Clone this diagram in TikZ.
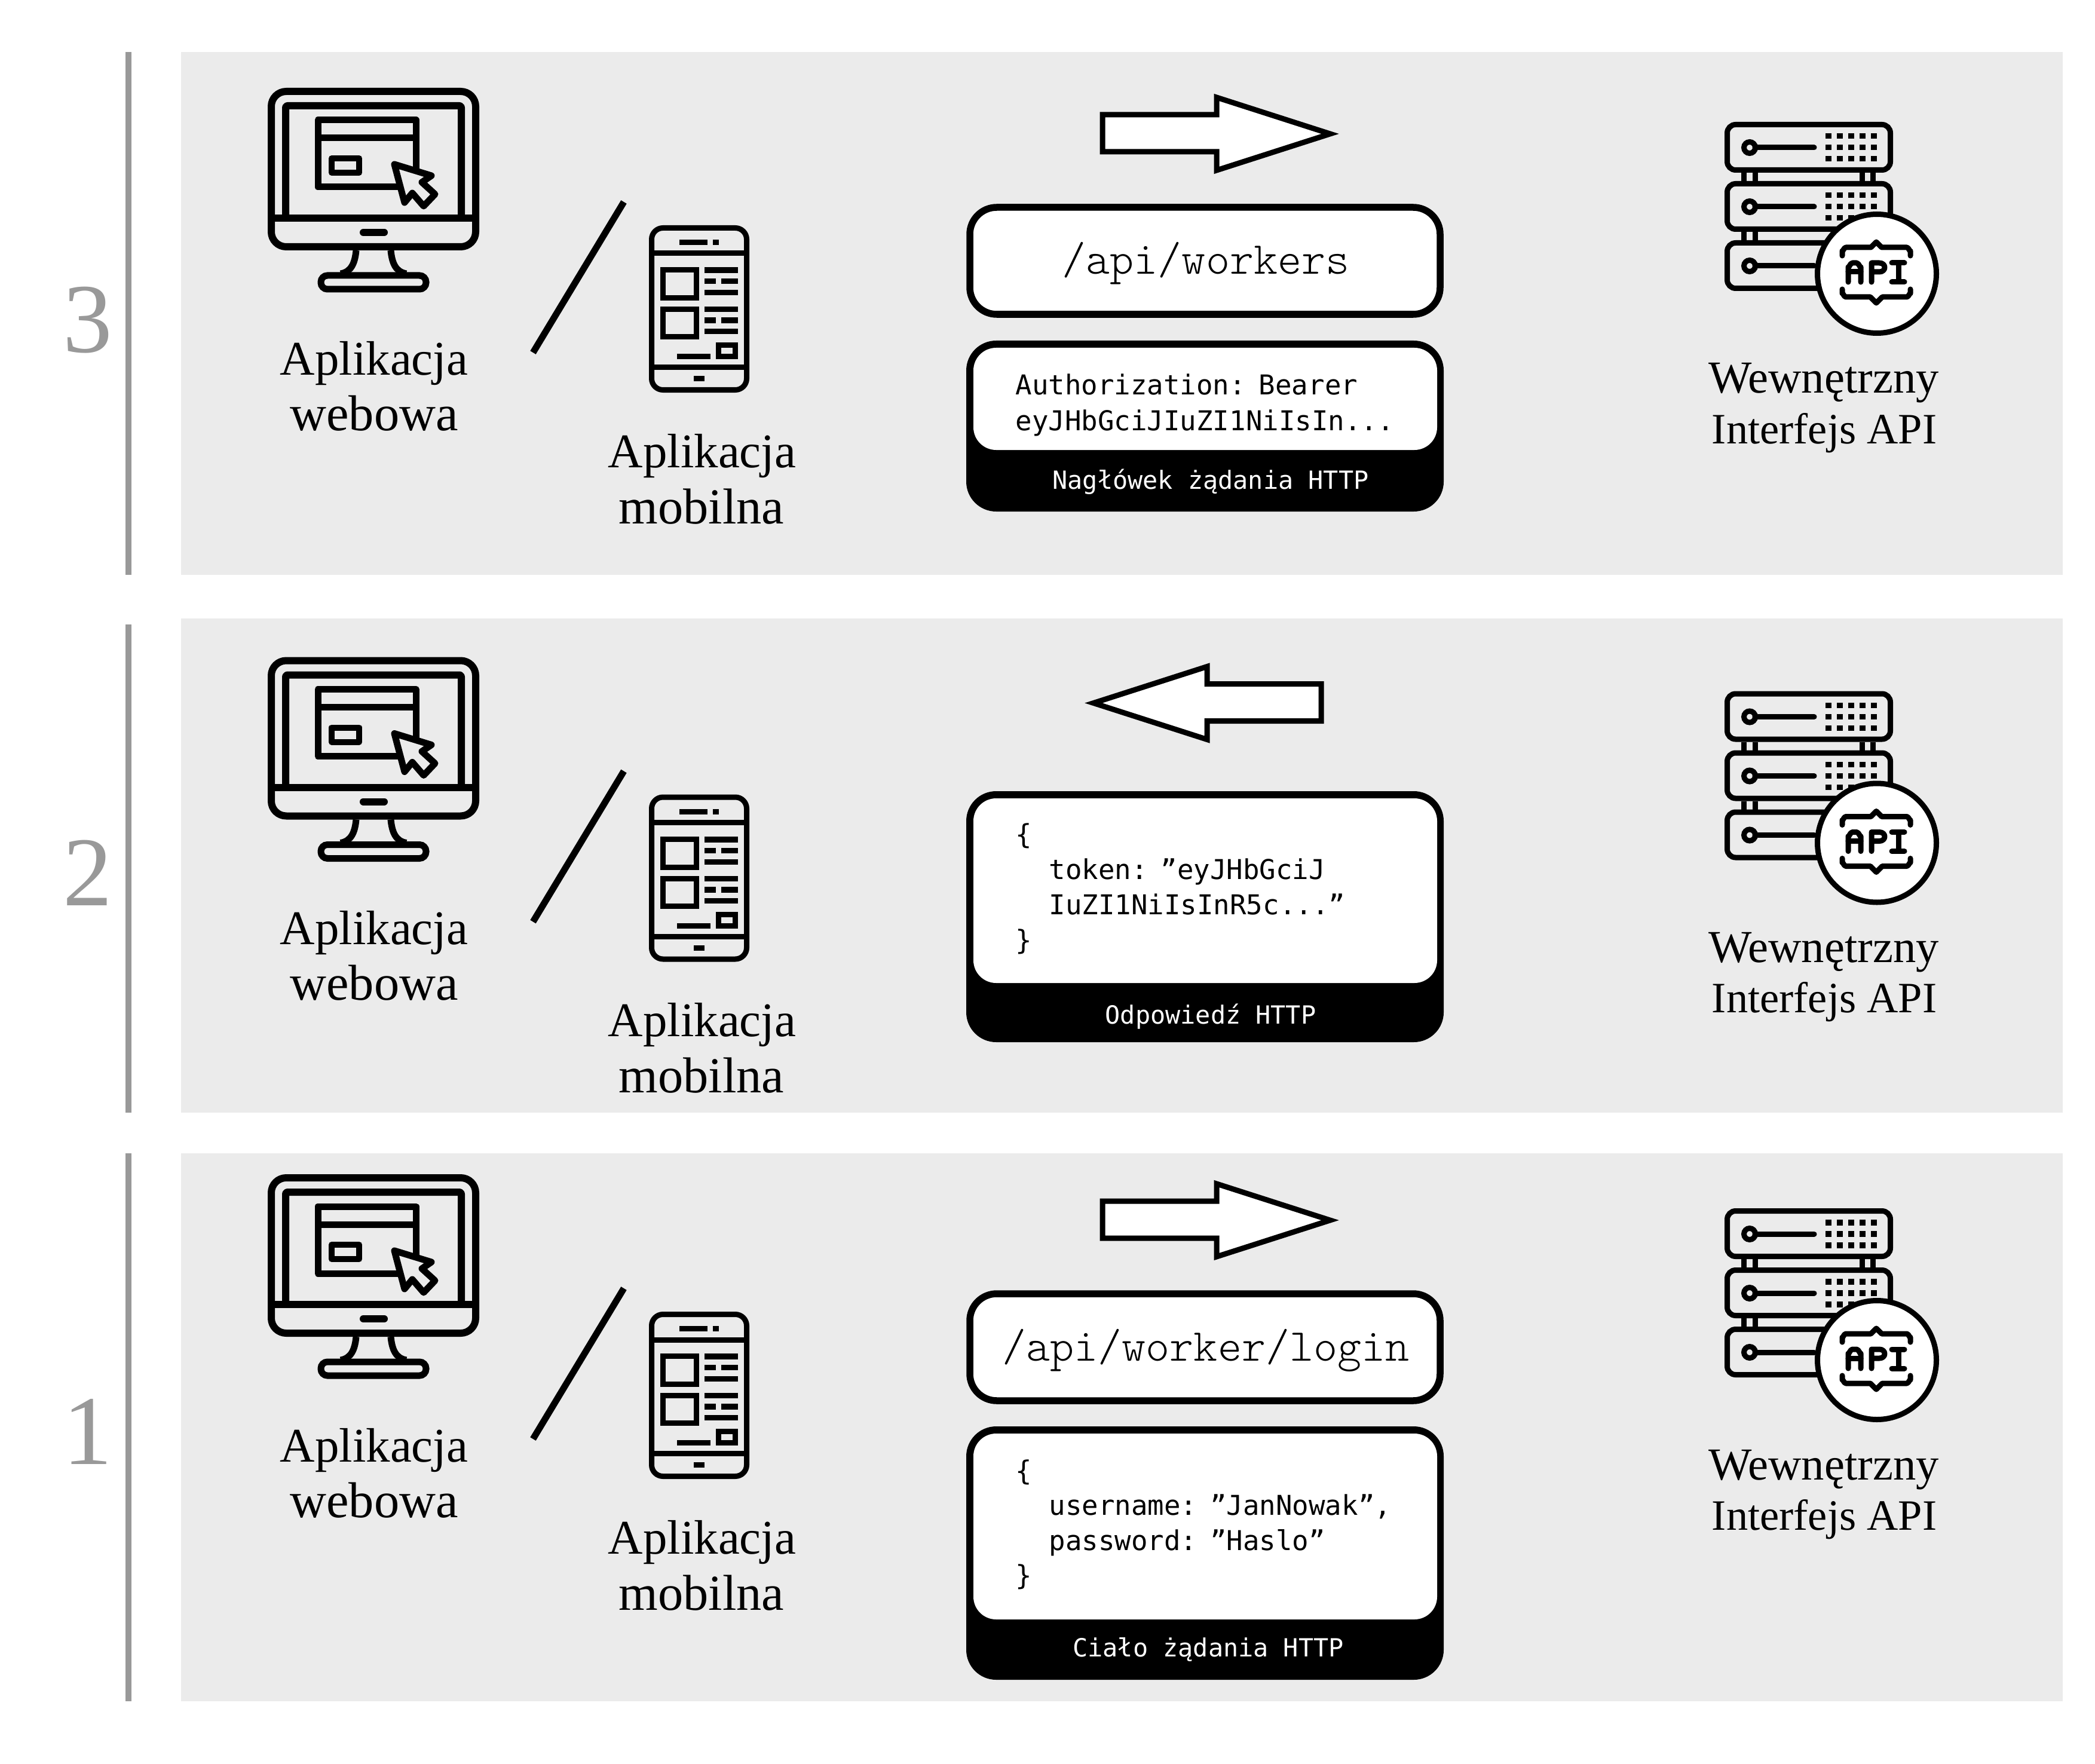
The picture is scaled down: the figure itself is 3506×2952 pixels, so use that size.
\documentclass[tikz,border=0pt]{standalone}
\usepackage{fontspec}
\setmainfont{Liberation Serif}
\newfontfamily\djc{DejaVu Sans Mono}
\newfontfamily\lml{Latin Modern Mono Light}
\usetikzlibrary{shapes.geometric}
\definecolor{panelgray}{HTML}{EBEBEB}
\definecolor{bargray}{HTML}{999999}
\newcommand{\fsz}[1]{\fontsize{#1}{#1}\selectfont}
\newcommand{\nsp}{\hspace{0.48em}}
\tikzset{
  panel/.style={fill=panelgray,draw=none},
  sidebar/.style={draw=bargray,line width=0.1cm},
  digit/.style={text=bargray,anchor=base,inner sep=0pt,font=\fsz{47}},
  lab/.style={anchor=base,inner sep=0pt,text=black,font=\fsz{23}},
  labb/.style={anchor=base,inner sep=0pt,text=black,font=\fsz{24}},
  labw/.style={anchor=base,inner sep=0pt,text=black,font=\fsz{21.8}},
  labi/.style={anchor=base,inner sep=0pt,text=black,font=\fsz{20.6}},
  mono/.style={anchor=base west,inner sep=0pt,text=black,font=\djc\fsz{13}},
  captxt/.style={anchor=base,inner sep=0pt,text=white,font=\djc\fsz{11.9}},
  url/.style={anchor=base,inner sep=0pt,text=black,font=\lml\fsz{21.7}},
  ml/.style={line width=0.12cm,draw=black},
  pl/.style={line width=0.09cm,draw=black},
  bigarrow/.style={draw=black,fill=white,line width=0.09cm,miter limit=10},
  urlbox/.style={draw=black,fill=white,line width=0.115cm,rounded corners=0.45cm},
  blackbox/.style={fill=black,draw=none,rounded corners=0.5cm},
  whitebox/.style={fill=white,draw=none,rounded corners=0.38cm},
}
\newcommand{\gridrow}[1]{%
  \foreach \gy in {223,242,261}{\foreach \gx in {3055,3074,3093,3112,3131}{
    \fill[black] (\gx,\gy+#1) rectangle ++(9.5,9.5);}}}
\newcommand{\rowicons}[2]{%
\begin{scope}[shift={(0,#1)}]
  % monitor
  \draw[ml,line join=round,rounded corners=0.25cm] (454,153) rectangle (796,413);
  \draw[ml,line join=round,rounded corners=0.03cm] (478,365) -- (478,177) -- (772,177) -- (772,365);
  \draw[ml] (448,365) -- (802,365);
  \draw[pl,line width=0.11cm,line join=round] (532,201) rectangle (696,313);
  \draw[pl,line width=0.11cm] (532,231) -- (696,231);
  \draw[pl,line width=0.1cm,line join=round] (555,265) rectangle (601,289);
  \draw[ml,line width=0.11cm,line join=round,fill=panelgray] (660,275) -- (722,294) -- (706,305) -- (728,325) -- (709,345) -- (690,323) -- (677,339) -- cycle;
  \draw[line width=0.12cm,line cap=round] (608,389) -- (643,389);
  \draw[pl,line width=0.11cm] (596,419) .. controls (594,440) and (588,455) .. (570,458);
  \draw[pl,line width=0.11cm] (654,419) .. controls (656,440) and (662,455) .. (680,458);
  \draw[ml,line width=0.11cm,rounded corners=0.11cm] (537,461) rectangle (713,484);
  % separator
  \draw[line width=0.11cm] (1044,338) -- (892,590);
  % phone
  \draw[pl,rounded corners=0.19cm] (1090.5,381.5) rectangle (1249.5,652.5);
  \draw[pl] (1090,424) -- (1250,424);
  \draw[pl] (1090,614.5) -- (1250,614.5);
  \fill (1137,401) rectangle (1184,410);
  \fill (1193,401) rectangle (1203,410);
  \draw[pl] (1109.5,451.5) rectangle (1165.5,498.5);
  \draw[pl] (1109.5,517.5) rectangle (1165.5,563.5);
  \fill (1179,447) rectangle (1235,457);
  \fill (1179,466) rectangle (1198,475);
  \fill (1207,466) rectangle (1235,475);
  \fill (1179,485) rectangle (1235,494);
  \fill (1179,513) rectangle (1235,522);
  \fill (1179,531) rectangle (1198,541);
  \fill (1207,531) rectangle (1235,541);
  \fill (1179,550) rectangle (1235,559);
  \fill (1133,592) rectangle (1189,601);
  \draw[pl] (1202.5,577.5) rectangle (1230.5,596.5);
  \fill (1161,629) rectangle (1179,638);
  % labels
  \node[lab] (weba#2) at (626,628) {Aplikacja};
  \node[labb] (webb#2) at (626,721) {webowa};
  \node[lab] (moba#2) at (1175,782) {Aplikacja};
  \node[labb] (mobb#2) at (1174,876) {mobilna};
  \node[labw] (srva#2) at (3052,658) {Wewnętrzny};
  \node[labi] (srvb#2) at (3053,742) {Interfejs API};
  % server
  \foreach \sx in {2914,2933,3112,3130}{
    \fill (\sx,289) rectangle ++(9,14);
    \fill (\sx,388) rectangle ++(9,14);}
  \foreach \sy in {208.5,307.5,406.5}{
    \draw[pl,rounded corners=0.14cm] (2890.5,\sy) rectangle (3163.5,\sy+76);
    \draw[pl,line cap=round] (2937,\sy+38.5) -- (3036,\sy+38.5);
    \draw[pl] (2928,\sy+38.5) circle (9.5);
  }
  \gridrow{0}
  \gridrow{99}
  \draw[pl,fill=white] (3141,458) circle (99.5);
  \draw[pl,line cap=round,line join=round] (3083,428) -- (3083,420) to[out=-90,in=180] (3089,414) -- (3131,414) -- (3140,405) -- (3149,414) -- (3191,414) to[out=0,in=-90] (3197,420) -- (3197,428);
  \draw[pl,line cap=round,line join=round] (3083,484) -- (3083,491) to[out=90,in=180] (3089,497) -- (3130,497) -- (3140,507) -- (3150,497) -- (3191,497) to[out=0,in=90] (3197,491) -- (3197,484);
  \draw[pl,line cap=round,line join=round] (3093,472) -- (3093,447) to[out=-90,in=180] (3100,440) -- (3107,440) to[out=0,in=-90] (3114,447) -- (3114,472);
  \draw[pl,line cap=round] (3093,455) -- (3114,455);
  \draw[pl,line cap=round,line join=round] (3132,472) -- (3132,440) -- (3145,440) .. controls (3157,440) and (3157,455) .. (3145,455) -- (3132,455);
  \draw[pl,line cap=round] (3166,440) -- (3187,440);
  \draw[pl,line cap=round] (3166,472) -- (3187,472);
  \draw[pl] (3177,440) -- (3177,472);
\end{scope}}
\begin{document}
\begin{tikzpicture}[x=0.01cm,y=-0.01cm]
\useasboundingbox (0,0) rectangle (3506,2952);
\fill[white] (0,0) rectangle (3506,2952);
% panels
\fill[panel] (303,87) rectangle (3452,962);
\fill[panel] (303,1035) rectangle (3452,1862);
\fill[panel] (303,1930) rectangle (3452,2847);
% side bars
\draw[sidebar] (215,87) -- (215,962);
\draw[sidebar] (215,1045) -- (215,1862);
\draw[sidebar] (215,1930) -- (215,2847);
\node[digit] (n3) at (147,590) {3};
\node[digit] (n2) at (147,1515) {2};
\node[digit] (n1) at (147,2450) {1};
\rowicons{0}{c}
\rowicons{952.5}{b}
\rowicons{1818}{a}
% arrows
\draw[bigarrow] (1845,192) -- (2036,192) -- (2036,163) -- (2226,224) -- (2036,285) -- (2036,254) -- (1845,254) -- cycle;
\draw[bigarrow] (2211,1144.5) -- (2020,1144.5) -- (2020,1115.5) -- (1830,1176.5) -- (2020,1237.5) -- (2020,1206.5) -- (2211,1206.5) -- cycle;
\draw[bigarrow] (1845,2010) -- (2036,2010) -- (2036,1981) -- (2226,2042) -- (2036,2103) -- (2036,2072) -- (1845,2072) -- cycle;
% panel 3 boxes
\draw[urlbox] (1623,347) rectangle (2410,526);
\node[url] (u3) at (2018,459) {/api/workers};
\fill[blackbox] (1617,570) rectangle (2416,856);
\fill[whitebox] (1629,582) rectangle (2405,753);
\node[mono] (t3a) at (1699,661) {Authorization:\nsp Bearer};
\node[mono] (t3b) at (1699,721) {eyJHbGciJIuZI1NiIsIn...};
\node[captxt] (c3) at (2026,818) {Nagłówek żądania HTTP};
% panel 2 box
\fill[blackbox] (1617,1324) rectangle (2416,1744);
\fill[whitebox] (1629,1336) rectangle (2405,1645);
\node[mono] (t2a) at (1699,1412) {\{};
\node[mono] (t2b) at (1755,1471) {token:\nsp ”eyJHbGciJ};
\node[mono] (t2c) at (1755,1530) {IuZI1NiIsInR5c...”};
\node[mono] (t2d) at (1699,1589) {\}};
\node[captxt] (c2) at (2026,1713) {Odpowiedź HTTP};
% panel 1 boxes
\draw[urlbox] (1623,2165) rectangle (2410,2344);
\node[url] (u1) at (2018,2277) {/api/worker/login};
\fill[blackbox] (1617,2387) rectangle (2416,2811);
\fill[whitebox] (1629,2399) rectangle (2405,2710);
\node[mono] (t1a) at (1699,2477) {\{};
\node[mono] (t1b) at (1755,2535) {username:\nsp ”JanNowak”,};
\node[mono] (t1c) at (1755,2594) {password:\nsp ”Haslo”};
\node[mono] (t1d) at (1699,2652) {\}};
\node[captxt] (c1) at (2022,2772) {Ciało żądania HTTP};
\end{tikzpicture}
\end{document}
